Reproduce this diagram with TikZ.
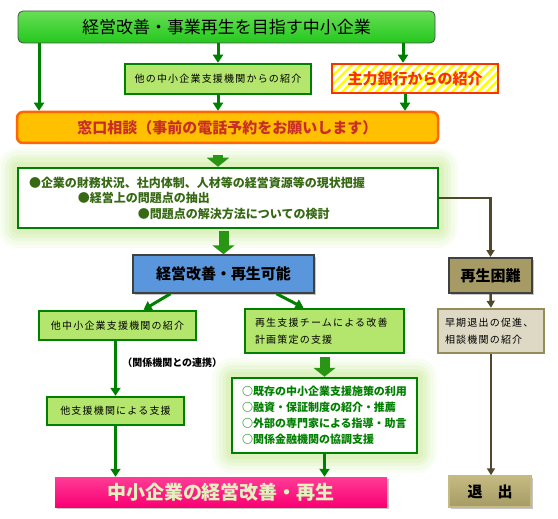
\documentclass[tikz,border=0pt]{standalone}
\usepackage{fontspec}
\setmainfont{Noto Sans CJK JP}
\newfontfamily\spacedjp[LetterSpace=12]{Noto Sans CJK JP}
\usepackage{xcolor}
\definecolor{leaf}{RGB}{0,128,0}
\definecolor{leaflight}{RGB}{180,230,110}
\definecolor{leaftop}{RGB}{105,222,85}
\definecolor{leafbot}{RGB}{35,200,30}
\definecolor{glowc}{RGB}{175,225,100}
\definecolor{fatgreen}{RGB}{40,150,20}
\definecolor{textgreen}{RGB}{55,105,20}
\definecolor{deskfill}{RGB}{255,192,0}
\definecolor{deskline}{RGB}{255,102,0}
\definecolor{deskred}{RGB}{200,45,40}
\definecolor{bankred}{RGB}{250,50,0}
\definecolor{skyblue}{RGB}{90,150,220}
\definecolor{khaki}{RGB}{166,155,100}
\definecolor{khakihi}{RGB}{196,186,130}
\definecolor{khakiline}{RGB}{150,140,90}
\definecolor{khakilight}{RGB}{221,217,196}
\definecolor{mud}{RGB}{80,72,45}
\definecolor{pinkhi}{RGB}{255,60,150}
\definecolor{magent}{RGB}{250,0,115}
\definecolor{paletext}{RGB}{225,242,190}
\usepackage{tikz}
\usetikzlibrary{arrows.meta,positioning,calc,shadows,patterns.meta}

\begin{document}
\begin{tikzpicture}[x=1pt,y=-1pt,
  greenbox/.style={draw=leaf,fill=leaflight,line width=2.5pt,font=\spacedjp\fontsize{10}{17}\selectfont},
  glow/.style={preaction={draw=glowc,line width=40pt,draw opacity=0.07,line join=round},
               preaction={draw=glowc,line width=33pt,draw opacity=0.08,line join=round},
               preaction={draw=glowc,line width=26pt,draw opacity=0.1,line join=round},
               preaction={draw=glowc,line width=19pt,draw opacity=0.12,line join=round},
               preaction={draw=glowc,line width=12pt,draw opacity=0.14,line join=round}},
  shade/.style={drop shadow={shadow xshift=2pt,shadow yshift=-2pt,opacity=0.45}},
  bigtext/.style={font=\bfseries\fontsize{15}{18}\selectfont},
  garrow/.style={draw=leaf,line width=3pt,-{Triangle[width=10pt,length=8pt]}},
  fatarrow/.style={draw=fatgreen,line width=10pt,-{Triangle[width=22pt,length=9pt]}},
  mudarrow/.style={draw=mud,line width=2.5pt,-{Triangle[width=8pt,length=7pt]}}]
\useasboundingbox (0,0) rectangle (558,519);
% row 1: the company and the two ways it is sent on
\node[draw=black!70,line width=0.8pt,rounded corners=5pt,top color=leaftop,bottom color=leafbot,
  minimum width=417pt,minimum height=32pt,font=\fontsize{17}{20}\selectfont] (target) at (226.5,27) {経営改善・事業再生を目指す中小企業};
\node[greenbox,minimum width=186pt,minimum height=30pt] (viaorg) at (218,79) {他の中小企業支援機関からの紹介};
\node[draw=bankred,line width=2.5pt,preaction={fill=white},pattern={Lines[angle=45,distance=6pt,line width=2.5pt]},pattern color=yellow,
  minimum width=166pt,minimum height=29pt,text=bankred,bigtext] (viabank) at (415,78.5) {主力銀行からの紹介};
% row 2: the desk and what is checked there
\node[draw=deskline,fill=deskfill,line width=2.5pt,rounded corners=6pt,minimum width=421pt,minimum height=31pt,
  text=deskred,bigtext] (desk) at (227.5,127.5) {窓口相談（事前の電話予約をお願いします）};
\node[glow,draw=leaf,fill=white,line width=2.5pt,text width=398pt,inner xsep=11pt,minimum height=60pt,align=left,
  text=textgreen,font=\bfseries\fontsize{12}{15.5}\selectfont] (review) at (228,198)
  {●企業の財務状況、社内体制、人材等の経営資源等の現状把握\\\hspace*{49pt}●経営上の問題点の抽出\\\hspace*{109pt}●問題点の解決方法についての検討};
% row 3: the verdict
\node[draw=black!75,fill=skyblue,line width=1.5pt,shade,minimum width=181pt,minimum height=38pt,bigtext] (viable) at (223.5,274) {経営改善・再生可能};
\node[draw=black!75,fill=khaki,line width=2pt,shade,minimum width=83pt,minimum height=35pt,bigtext] (hardcase) at (490.5,275.5) {再生困難};
% row 4: the kinds of help
\node[greenbox,minimum width=157pt,minimum height=29pt] (orgintro) at (117.5,325.5) {他中小企業支援機関の紹介};
\node[greenbox,text width=139pt,inner xsep=10pt,minimum height=44pt,align=left] (teamplan) at (324.5,331) {再生支援チームによる改善\\計画策定の支援};
\node[draw=khakiline,fill=khakilight,line width=2.5pt,text width=92pt,inner xsep=7pt,minimum height=44pt,align=left,
  font=\spacedjp\fontsize{10}{17}\selectfont] (exitadv) at (491,331) {早期退出の促進、\\相談機関の紹介};
\node[greenbox,minimum width=137pt,minimum height=28pt] (orgsupport) at (115.5,411) {他支援機関による支援};
\node[glow,draw=leaf,fill=white,line width=2.5pt,text width=165pt,inner xsep=10pt,minimum height=75pt,align=left,
  text=leaf,font=\bfseries\fontsize{11}{16}\selectfont] (measures) at (324.5,415.5)
  {○既存の中小企業支援施策の利用\\○融資・保証制度の紹介・推薦\\○外部の専門家による指導・助言\\○関係金融機関の協調支援};
% row 5: the outcomes
\node[top color=pinkhi,bottom color=magent,shade,minimum width=332pt,minimum height=30pt,text=paletext,
  font=\bfseries\fontsize{19}{22}\selectfont] (result) at (221,492) {中小企業の経営改善・再生};
\node[draw=khakihi,line width=1.5pt,top color=khakihi,bottom color=khaki,shade,minimum width=82pt,minimum height=31pt,bigtext] (exitbox) at (490,491.5) {退　出};
% connectors
\coordinate (leftdrop) at ([xshift=-187.5pt]target.south);
\coordinate (bankin) at ([xshift=-12pt]viabank.north);
\coordinate (bankout) at ([xshift=-10pt]viabank.south);
\coordinate (deskout) at ([xshift=-9.5pt]desk.south);
\draw[garrow] (leftdrop) -- (leftdrop |- desk.north);
\draw[garrow] (target.south -| viaorg.north) -- (viaorg.north);
\draw[garrow] (bankin |- target.south) -- (bankin);
\draw[garrow] (bankout) -- (bankout |- desk.north);
\foreach \f/\t in {viaorg.south/desk, orgsupport.south/result, measures.south/result}
  \draw[garrow] (\f) -- (\f |- \t.north);
\draw[fatarrow,shorten <=11pt] (deskout) -- (deskout |- review.north);
\draw[fatarrow,shorten <=2pt] (review.south -| viable.north) -- (viable.north);
\draw[fatarrow,shorten <=3pt] (teamplan.south) -- (measures.north);
\draw[garrow] ([xshift=-53pt]viable.south) -- ([xshift=26pt]orgintro.north);
\draw[garrow] ([xshift=53pt]viable.south) -- ([xshift=-21pt]teamplan.north);
\draw[garrow] (orgintro.south -| orgsupport.north) -- node[right=2pt,pos=0.4,font=\bfseries\fontsize{10}{12}\selectfont] (link) {（関係機関との連携）} (orgsupport.north);
\draw[mudarrow] (review.east) -| (hardcase.north);
\draw[mudarrow] (hardcase.south) -- (exitadv.north);
\draw[mudarrow] (exitadv.south) -- (exitadv.south |- exitbox.north);
\end{tikzpicture}
\end{document}
